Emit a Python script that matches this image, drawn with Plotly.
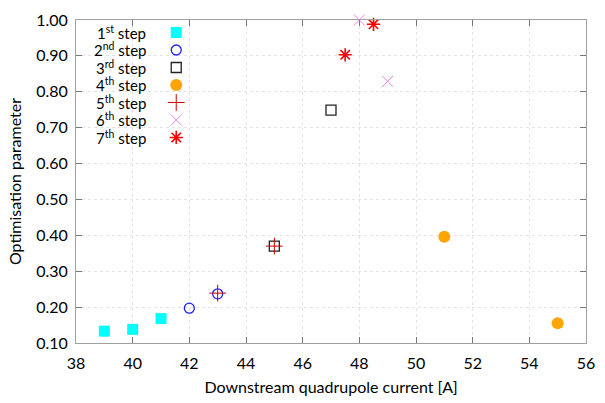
import plotly.graph_objects as go

# Data
steps = ["1<sup>st</sup> step", "2<sup>nd</sup> step", "3<sup>rd</sup> step", "4<sup>th</sup> step",
         "5<sup>th</sup> step", "6<sup>th</sup> step", "7<sup>th</sup> step"]
x1 = [39, 40, 41];     y1 = [0.133, 0.138, 0.168]
x2 = [42, 43];         y2 = [0.197, 0.237]
x3 = [45, 47];         y3 = [0.370, 0.749]
x4 = [51, 55];         y4 = [0.396, 0.155]
x5 = [43, 45];         y5 = [0.239, 0.370]
x6 = [48, 49];         y6 = [1.000, 0.829]
x7 = [47.5, 48.5];     y7 = [0.903, 0.988]

xs = [x1, x2, x3, x4, x5, x6, x7]
ys = [y1, y2, y3, y4, y5, y6, y7]
styles = [
    dict(symbol="square", color="#00ffff", size=11, line=dict(width=0)),
    dict(symbol="circle-open", color="#1f1fff", size=10, line=dict(width=1.3, color="#1f1fff")),
    dict(symbol="square-open", color="#222222", size=10, line=dict(width=1.3, color="#222222")),
    dict(symbol="circle", color="#ffa500", size=12, line=dict(width=0)),
    dict(symbol="cross-thin-open", color="#cc0000", size=12, line=dict(width=1.0, color="#cc0000")),
    dict(symbol="x-thin-open", color="#ee82ee", size=11, line=dict(width=1.0, color="#ee82ee")),
    dict(symbol="asterisk-open", color="#ff0000", size=11, line=dict(width=1.6, color="#ff0000")),
]

fig = go.Figure()
for i in range(7):
    fig.add_trace(go.Scatter(x=xs[i], y=ys[i], mode="markers", marker=styles[i],
                             name=steps[i], showlegend=False, cliponaxis=False))

# gnuplot-like legend: text right-aligned, symbol to the right
W, H = 605, 403
ml, mr, mt, mb = 76, 10, 10, 57
pw, ph = W - ml - mr, H - mt - mb
for i, s in enumerate(steps):
    ypix = 23 + i * 18.2
    yp = 1 - (ypix - mt) / ph
    fig.add_annotation(xref="paper", yref="paper", x=(148 - ml) / pw, y=yp, text=s,
                       showarrow=False, xanchor="right", yanchor="middle",
                       borderpad=0,
                       font=dict(size=15, color="#000000"))
    fig.add_trace(go.Scatter(x=[(178 - ml) / pw], y=[yp], xaxis="x2", yaxis="y2",
                             mode="markers", marker=styles[i], showlegend=False,
                             hoverinfo="skip"))

axis_common = dict(showline=True, linecolor="#a0a0a0", linewidth=1, mirror="ticks",
                   ticks="inside", ticklen=6, tickcolor="#777777",
                   showgrid=True, gridcolor="#e4e4e4", griddash="dot", gridwidth=1,
                   zeroline=False, tickfont=dict(size=16, color="#000000"))

fig.update_layout(
    width=W, height=H,
    margin=dict(l=ml, r=mr, t=mt, b=mb),
    plot_bgcolor="white", paper_bgcolor="white",
    font=dict(family="Lato, DejaVu Sans, sans-serif", size=16, color="#000000"),
    xaxis=dict(range=[38, 56], dtick=2, tick0=38, ticklabelstandoff=6,
               title=dict(text="Downstream quadrupole current [A]", standoff=10,
                          font=dict(size=16)), **axis_common),
    yaxis=dict(range=[0.10, 1.00], dtick=0.1, tick0=0.1, tickformat=".2f",
               ticklabelstandoff=4,
               title=dict(text="Optimisation parameter", standoff=10,
                          font=dict(size=16)), **axis_common),
    xaxis2=dict(range=[0, 1], overlaying="x", visible=False, fixedrange=True),
    yaxis2=dict(range=[0, 1], overlaying="y", visible=False, fixedrange=True),
)

fig.write_html("out.html")
